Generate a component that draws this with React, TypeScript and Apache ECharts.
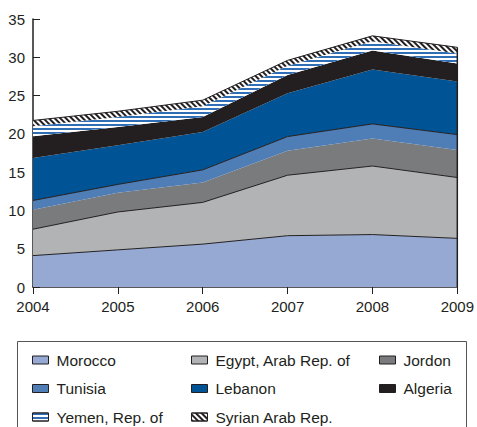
import React, { useEffect, useRef } from 'react';
import * as echarts from 'echarts';

const years = ['2004', '2005', '2006', '2007', '2008', '2009'];
const morocco = [4.1, 4.85, 5.6, 6.7, 6.85, 6.35];
const egypt = [3.45, 4.95, 5.45, 7.9, 8.95, 7.95];
const jordon = [2.55, 2.5, 2.6, 3.2, 3.6, 3.6];
const tunisia = [1.2, 1.1, 1.65, 1.85, 1.9, 2.0];
const lebanon = [5.55, 5.1, 4.95, 5.65, 7.1, 6.95];
const algeria = [2.85, 2.4, 1.95, 2.4, 2.5, 2.35];
const yemen = [1.3, 1.3, 1.4, 1.2, 1.2, 1.3];
const syria = [0.75, 0.75, 0.8, 0.7, 0.7, 0.8];

const FONT = "'Liberation Sans', Arial, sans-serif";
const INK = '#231f20';

const seriesDefs = [
  { name: 'Morocco', data: morocco, color: '#95a9d2', line: true },
  { name: 'Egypt, Arab Rep. of', data: egypt, color: '#b1b3b5', line: true },
  { name: 'Jordon', data: jordon, color: '#7a7b7d', line: false },
  { name: 'Tunisia', data: tunisia, color: '#4f7db5', line: true },
  { name: 'Lebanon', data: lebanon, color: '#005495', line: false },
  { name: 'Algeria', data: algeria, color: INK, line: false },
  {
    name: 'Yemen, Rep. of', data: yemen, color: '#ffffff', line: false,
    decal: { symbol: 'rect', symbolSize: 1, color: '#2f6db5', backgroundColor: '#ffffff', dashArrayX: [1, 0], dashArrayY: [1.2, 1.9], rotation: 0 },
  },
  {
    name: 'Syrian Arab Rep.', data: syria, color: '#ffffff', line: true,
    decal: { symbol: 'rect', symbolSize: 1, color: INK, backgroundColor: '#ffffff', dashArrayX: [1, 0], dashArrayY: [1.2, 1.6], rotation: Math.PI / 4 },
  },
];

const col1 = ['Morocco', 'Tunisia', 'Yemen, Rep. of'];
const col2 = ['Egypt, Arab Rep. of', 'Lebanon', 'Syrian Arab Rep.'];
const col3 = ['Jordon', 'Algeria'];

export default function App() {
  const ref = useRef<HTMLDivElement>(null);
  useEffect(() => {
    if (!ref.current) return;
    const chart = echarts.init(ref.current, undefined, { renderer: 'svg' });
    const totals = years.map((_, i) => seriesDefs.reduce((s, d) => s + d.data[i], 0));
    const legendBase = {
      orient: 'vertical' as const,
      top: 352,
      padding: 0,
      itemGap: 12.5,
      itemWidth: 16,
      itemHeight: 8,
      icon: 'rect',
      itemStyle: { borderColor: INK, borderWidth: 1 },
      textStyle: { fontFamily: FONT, fontSize: 15.5, color: INK, padding: [0, 0, 0, 3] },
    };
    const option: any = {
      animation: false,
      backgroundColor: '#ffffff',
      textStyle: { fontFamily: FONT },
      grid: { left: 33, right: 18, top: 19, bottom: 140, containLabel: false },
      xAxis: {
        type: 'category',
        data: years,
        boundaryGap: false,
        axisLine: { lineStyle: { color: INK, width: 1.5 } },
        axisTick: { show: true, length: 7, lineStyle: { color: INK } },
        axisLabel: { fontSize: 15, color: INK, margin: 12, fontFamily: FONT },
        splitLine: { show: false },
      },
      yAxis: {
        type: 'value',
        min: 0,
        max: 35,
        interval: 5,
        axisLine: { show: true, lineStyle: { color: INK, width: 1.5 } },
        axisTick: { show: true, inside: true, length: 7, lineStyle: { color: INK } },
        axisLabel: { fontSize: 15, color: INK, margin: 8, fontFamily: FONT },
        splitLine: { show: false },
      },
      legend: [
        { ...legendBase, left: 32, data: col1 },
        { ...legendBase, left: 191, data: col2 },
        { ...legendBase, left: 379, data: col3 },
      ],
      graphic: [
        {
          type: 'rect',
          shape: { x: 17.5, y: 341.5, width: 449, height: 120 },
          style: { fill: 'none', stroke: '#555555', lineWidth: 1 },
          silent: true,
        },
      ],
      series: [
        ...seriesDefs.map((d) => ({
          name: d.name,
          type: 'line',
          stack: 'total',
          data: d.data,
          symbol: 'none',
          lineStyle: { width: d.line ? 1 : 0, color: INK },
          itemStyle: { color: d.color, ...(d.decal ? { decal: d.decal } : {}) },
          areaStyle: { color: d.color, opacity: 1 },
        })),
        {
          name: 'edge',
          type: 'custom',
          data: [[years.length - 1, totals[years.length - 1]]],
          renderItem: (params: any, api: any) => {
            const p0 = api.coord([api.value(0), 0]);
            const p1 = api.coord([api.value(0), api.value(1)]);
            return {
              type: 'line',
              shape: { x1: p0[0], y1: p0[1], x2: p1[0], y2: p1[1] },
              style: { stroke: INK, lineWidth: 1.5 },
            };
          },
          z: 5,
        },
      ],
    };
    chart.setOption(option);
    return () => chart.dispose();
  }, []);
  return (
    <div
      ref={ref}
      style={{ position: 'fixed', left: 0, top: 0, width: 477, height: 427 }}
    />
  );
}
